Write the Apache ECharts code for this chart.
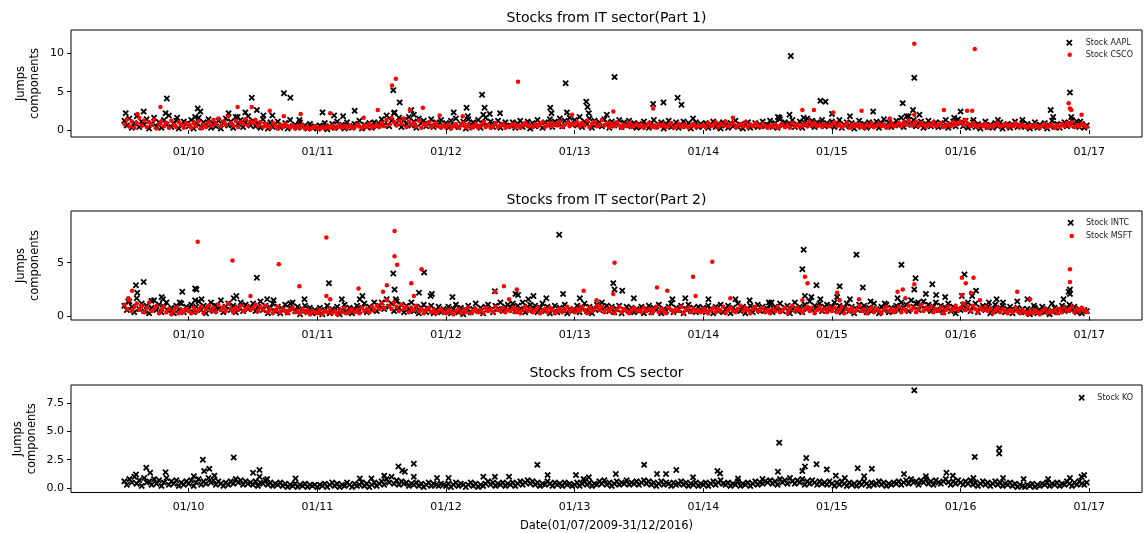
<!DOCTYPE html>
<html><head><meta charset="utf-8">
<script src="https://cdn.jsdelivr.net/npm/echarts@6/dist/echarts.min.js"></script>
<style>html,body{margin:0;padding:0;background:#fff}#c{width:1147px;height:533px}</style>
</head><body><div id="c"></div>
<script>
// ---- tick labels / titles ----
const yearTicks = [2010, 2011, 2012, 2013, 2014, 2015, 2016, 2017];
const titles = ['Stocks from IT sector(Part 1)', 'Stocks from IT sector(Part 2)', 'Stocks from CS sector'];
const seriesNames = ['Stock AAPL', 'Stock CSCO', 'Stock INTC', 'Stock MSFT', 'Stock KO'];
const yTicks1 = [0, 5, 10];
const yTicks2 = [0, 5];
const yTicks3 = [0, 2.5, 5, 7.5];

// ---- weekly base values (26 per half-year, 2009H2 .. 2016H2) ----
const aaplBase = [
1.2,0.6,1.5,0.3,0.9,1.8,0.4,1.1,0.7,1.4,0.2,0.8,1.6,0.5,1.0,0.3,1.3,0.7,1.9,0.4,0.9,1.2,0.2,0.6,1.1,0.8,
0.5,1.3,0.2,0.9,1.6,0.4,1.0,0.7,1.4,0.3,0.8,0.5,1.2,0.2,0.9,1.5,0.6,1.1,0.3,1.7,0.8,1.3,0.4,1.0,1.8,0.6,
1.2,0.5,0.9,0.3,1.4,0.7,0.2,1.0,0.4,0.8,1.1,0.3,0.6,0.9,0.2,1.3,0.5,0.7,0.3,1.0,0.4,0.6,0.2,0.8,0.3,0.5,
0.2,0.6,0.3,0.9,0.1,0.5,0.8,0.3,1.1,0.4,0.7,0.2,1.0,0.5,0.3,0.8,0.6,1.2,0.2,0.7,0.4,0.9,0.3,1.0,0.5,0.8,
1.4,0.7,1.9,0.5,1.2,2.2,0.9,1.6,0.4,1.3,0.8,1.7,0.6,1.1,0.3,1.5,0.9,1.2,0.5,0.8,1.4,0.4,1.0,0.7,1.3,0.5,
0.9,0.3,1.2,0.6,1.5,0.4,0.8,1.1,0.2,1.4,0.7,1.0,0.5,1.3,0.3,0.9,1.6,0.6,1.1,0.4,0.8,1.2,0.3,0.7,1.0,0.5,
0.6,1.0,0.3,0.8,1.2,0.4,0.7,1.1,0.2,0.9,0.5,1.3,0.6,0.3,1.0,0.7,1.4,0.4,1.1,0.8,1.5,0.5,1.2,0.9,1.6,0.7,
1.3,0.6,1.7,0.4,1.1,0.8,1.5,0.3,1.2,0.7,1.0,0.5,1.4,0.9,0.3,1.1,0.6,0.8,1.3,0.4,1.0,0.7,1.2,0.5,0.9,0.3,
0.8,0.4,1.1,0.6,0.3,0.9,1.3,0.5,0.7,1.0,0.2,0.8,1.2,0.4,0.6,1.0,0.3,0.7,1.1,0.5,0.9,0.2,0.6,1.0,0.4,0.8,
0.5,0.9,0.3,0.7,1.1,0.4,0.8,0.2,1.0,0.6,0.3,0.9,0.5,1.2,0.4,0.7,0.2,0.8,1.0,0.3,0.6,0.9,0.4,0.7,1.1,0.5,
0.7,1.2,0.4,0.9,0.3,1.4,0.6,1.0,0.5,0.8,1.3,0.4,0.7,1.1,0.3,0.9,1.5,0.6,1.2,0.4,1.0,0.7,1.3,0.5,0.9,0.6,
1.1,0.4,0.8,1.3,0.3,0.7,1.0,0.5,0.9,0.2,0.6,1.2,0.4,0.8,0.3,1.0,0.5,0.7,1.1,0.3,0.9,1.4,0.6,1.0,0.4,0.8,
1.2,0.6,1.6,0.4,1.0,1.8,0.7,1.3,0.5,0.9,1.1,0.3,0.8,1.2,0.5,0.7,1.0,0.4,0.9,0.6,1.3,0.3,0.8,1.1,0.5,1.4,
0.9,0.5,1.2,0.3,0.7,1.0,0.4,0.8,0.2,0.6,1.1,0.4,0.7,0.3,0.9,0.5,1.0,0.2,0.6,0.8,0.3,0.7,1.1,0.4,0.6,0.9,
0.4,0.8,0.2,0.6,1.0,0.3,0.7,0.5,0.9,0.2,0.6,1.2,0.4,0.8,0.3,0.7,1.0,0.5,0.9,1.3,0.6,1.1,0.4,0.8,0.3,0.6];
const cscoBase = [
0.8,1.4,0.5,1.1,0.3,0.9,1.6,0.6,1.2,0.4,1.0,0.7,1.3,0.2,0.8,1.1,0.5,0.9,0.3,1.2,0.6,0.4,1.0,0.7,0.3,0.9,
0.6,0.3,0.9,0.5,1.1,0.2,0.7,0.4,1.0,0.6,1.3,0.8,1.5,0.5,1.1,0.7,1.8,0.9,0.6,1.2,0.4,1.0,0.8,1.4,0.6,1.1,
0.9,1.3,0.6,1.0,0.4,0.8,0.5,0.3,0.9,0.6,0.2,0.7,0.4,0.8,0.5,0.3,0.6,0.2,0.5,0.3,0.7,0.2,0.4,0.1,0.3,0.5,
0.3,0.1,0.4,0.2,0.5,0.3,0.6,0.2,0.4,0.7,0.3,0.5,0.2,0.6,0.4,0.3,0.7,0.5,0.2,0.6,0.4,0.8,0.3,0.5,0.7,0.4,
0.9,0.5,1.3,0.7,1.6,1.0,0.6,1.2,0.8,1.5,0.4,1.1,0.7,0.9,0.5,1.2,0.3,0.8,0.6,1.0,0.4,0.7,0.9,0.5,0.3,0.6,
0.4,0.7,0.2,0.5,0.8,0.3,0.6,0.9,0.4,0.7,0.2,0.5,0.8,0.3,0.6,1.0,0.4,0.7,0.3,0.5,0.9,0.4,0.6,0.8,0.3,0.5,
0.5,0.8,0.4,0.6,0.3,0.7,0.9,0.5,0.6,0.4,0.8,0.5,0.7,1.0,0.4,0.6,0.9,0.5,0.8,0.6,1.1,0.4,0.7,0.9,0.5,0.8,
0.7,1.0,0.5,0.9,0.6,1.2,0.4,0.8,1.0,0.5,0.7,1.3,0.6,0.9,0.4,0.8,0.5,1.0,0.6,0.3,0.7,0.5,0.9,0.4,0.6,0.8,
0.5,0.7,0.3,0.6,0.9,0.4,0.6,0.3,0.8,0.5,0.7,0.4,0.6,0.9,0.3,0.5,0.8,0.4,0.7,0.5,0.3,0.6,0.8,0.4,0.6,0.5,
0.6,0.4,0.9,0.5,0.7,1.0,0.4,0.8,0.6,1.1,0.5,0.7,0.9,0.4,0.6,0.8,0.5,1.0,0.4,0.7,0.5,0.9,0.6,0.4,0.8,0.5,
0.3,0.6,0.4,0.7,0.3,0.5,0.8,0.4,0.6,0.3,0.9,0.5,0.7,0.4,0.6,0.8,0.5,1.1,0.6,0.9,0.5,0.7,0.4,0.8,0.6,0.5,
0.7,1.0,0.5,0.8,0.4,0.6,0.9,0.3,0.7,0.5,0.8,0.4,0.6,0.3,0.7,0.5,0.9,0.4,0.6,0.8,0.5,0.7,0.3,0.6,0.9,0.5,
0.6,0.9,0.5,1.0,0.7,1.2,0.6,0.8,1.1,0.5,0.9,0.7,0.4,0.8,0.6,1.0,0.5,0.7,0.9,0.4,0.6,0.8,0.5,1.0,0.7,0.9,
1.1,0.7,1.3,0.8,0.5,0.9,0.6,0.4,0.7,0.5,0.8,0.3,0.6,0.4,0.7,0.9,0.5,0.6,0.8,0.4,0.7,0.5,0.9,0.6,0.4,0.7,
0.5,0.3,0.6,0.4,0.7,0.5,0.3,0.6,0.8,0.4,0.5,0.7,0.3,0.6,0.4,0.8,0.5,0.9,0.6,1.0,0.4,0.7,0.5,0.8,0.6,0.4];
const intcBase = [
1.0,0.6,1.4,0.9,0.4,1.7,0.7,1.2,0.5,1.0,0.3,0.8,1.5,0.6,1.1,0.4,0.9,1.3,0.5,0.8,0.3,1.0,0.6,1.2,0.4,0.9,
0.7,1.1,0.4,0.9,1.4,0.6,1.0,0.3,0.8,1.3,0.5,1.0,0.7,1.5,0.4,0.9,1.2,0.6,1.0,0.4,0.8,1.3,0.5,1.1,0.7,0.9,
1.2,0.5,0.9,1.4,0.6,1.0,0.3,0.8,1.2,0.5,0.9,0.3,0.7,1.1,0.4,0.8,1.3,0.5,0.9,0.2,0.7,1.0,0.4,0.8,0.3,0.6,
0.4,0.8,0.2,0.6,1.0,0.3,0.7,0.5,0.9,0.2,0.6,1.1,0.4,0.8,0.3,0.7,1.0,0.5,0.8,1.2,0.4,0.9,0.6,1.3,0.5,1.0,
1.3,0.7,1.6,0.9,1.2,0.5,1.4,0.8,1.1,0.4,1.0,0.7,1.3,0.5,0.9,0.3,0.8,1.1,0.4,0.7,1.0,0.3,0.6,0.9,0.4,0.7,
0.5,0.9,0.3,0.7,1.1,0.4,0.8,0.2,0.6,1.0,0.4,0.7,1.2,0.5,0.8,0.3,0.9,1.1,0.6,0.4,1.0,0.7,1.3,0.5,0.9,1.1,
0.8,1.2,0.5,1.0,0.7,1.3,0.4,0.9,1.1,0.6,1.0,0.4,0.8,1.2,0.5,0.9,0.3,0.7,1.0,0.4,0.8,0.6,1.1,0.3,0.7,0.5,
0.6,1.0,0.4,0.8,1.2,0.5,0.9,0.3,0.7,1.1,0.6,1.3,0.8,1.0,0.5,0.9,0.4,0.7,1.0,0.3,0.6,0.9,0.5,0.8,0.4,0.7,
0.5,0.9,0.3,0.7,1.0,0.4,0.8,0.6,1.1,0.3,0.7,0.5,0.9,1.2,0.4,0.8,0.6,1.0,0.3,0.7,1.1,0.5,0.8,0.4,0.9,0.6,
0.8,0.4,1.0,0.6,0.3,0.9,0.5,1.1,0.4,0.7,1.0,0.3,0.8,0.6,1.2,0.5,0.9,0.3,0.7,1.0,0.4,0.8,1.1,0.5,0.9,0.6,
0.7,1.1,0.4,0.9,0.6,1.2,0.5,0.8,1.0,0.3,0.7,1.3,0.5,0.9,0.4,1.1,0.7,1.4,0.6,1.0,0.8,1.2,0.5,0.9,1.1,0.6,
0.9,1.3,0.6,1.0,0.4,0.8,1.2,0.5,0.9,0.3,0.7,1.1,0.6,1.0,0.4,0.8,0.5,1.2,0.7,0.3,0.9,0.6,1.1,0.4,0.8,0.5,
1.0,0.6,1.3,0.8,1.1,0.5,1.5,0.9,1.2,0.6,1.0,1.4,0.7,1.1,0.5,0.9,1.3,0.6,1.0,0.4,0.8,1.2,0.5,0.9,0.3,0.7,
0.6,1.1,0.8,1.3,0.5,0.9,1.2,0.4,0.8,1.0,0.6,0.9,0.3,0.7,1.1,0.5,0.8,1.0,0.4,0.7,0.9,0.3,0.6,0.8,0.5,0.7,
0.4,0.7,0.2,0.5,0.8,0.3,0.6,0.9,0.4,0.7,0.2,0.5,0.8,0.4,0.6,1.0,0.5,0.8,1.1,0.6,0.9,0.4,0.7,0.3,0.6,0.5];
const msftBase = [
1.1,0.7,1.5,0.5,0.9,1.2,0.6,1.0,0.4,0.8,1.3,0.5,0.7,1.0,0.3,0.6,0.9,0.4,0.7,0.2,0.5,0.8,0.3,0.6,0.4,0.7,
0.5,0.3,0.8,0.4,0.6,0.9,0.3,0.7,1.0,0.5,0.8,0.4,1.1,0.6,0.9,0.5,1.2,0.7,0.4,0.8,0.6,1.0,0.5,0.7,0.9,0.6,
0.8,1.1,0.5,0.9,0.6,1.0,0.4,0.7,0.3,0.6,0.9,0.4,0.7,0.5,0.3,0.6,0.8,0.4,0.5,0.3,0.7,0.4,0.6,0.2,0.5,0.4,
0.3,0.6,0.2,0.5,0.4,0.7,0.3,0.5,0.2,0.6,0.4,0.8,0.3,0.5,0.7,0.4,0.6,0.3,0.8,0.5,0.7,0.4,0.9,0.6,1.0,0.7,
1.2,0.8,1.5,1.0,0.7,1.3,0.9,0.5,1.1,0.7,0.9,0.4,0.8,0.6,1.0,0.5,0.7,0.3,0.6,0.8,0.4,0.6,0.3,0.5,0.7,0.4,
0.3,0.6,0.4,0.2,0.5,0.7,0.3,0.6,0.4,0.8,0.3,0.5,0.7,0.4,0.6,0.3,0.8,0.5,0.7,0.4,0.9,0.6,0.5,0.8,0.4,0.6,
0.5,0.8,0.4,0.7,0.3,0.6,0.9,0.5,0.7,0.4,0.6,0.8,0.3,0.5,0.7,0.4,0.8,0.6,0.3,0.5,0.7,0.4,0.6,0.9,0.5,0.7,
0.4,0.7,0.5,0.9,0.6,0.3,0.8,0.5,0.7,1.0,0.6,0.9,0.4,0.7,0.5,0.8,0.3,0.6,0.9,0.4,0.7,0.5,0.3,0.6,0.8,0.5,
0.6,0.4,0.8,0.5,0.7,0.3,0.6,0.9,0.4,0.7,0.5,0.3,0.8,0.6,0.4,0.7,0.5,0.9,0.3,0.6,0.8,0.4,0.7,0.5,0.6,0.4,
0.7,0.5,0.3,0.6,0.8,0.4,0.7,0.5,0.9,0.3,0.6,0.8,0.5,0.4,0.7,1.0,0.5,0.8,0.6,0.3,0.7,0.9,0.5,0.6,0.8,0.4,
0.6,0.3,0.7,0.5,0.9,0.4,0.6,0.8,0.3,0.7,1.0,0.5,0.8,0.6,0.4,0.7,0.9,0.5,0.8,0.3,0.6,0.9,0.5,0.7,0.4,0.8,
0.5,0.8,0.4,0.6,0.9,0.3,0.7,0.5,0.8,0.4,0.6,1.0,0.5,0.7,0.3,0.6,0.8,0.4,0.7,0.5,0.3,0.6,0.9,0.5,0.7,0.4,
0.6,0.9,0.4,0.7,0.5,1.0,0.6,0.8,0.4,0.7,1.1,0.5,0.8,0.6,0.9,0.4,0.7,0.5,0.8,0.3,0.6,0.9,0.5,0.7,1.0,0.6,
0.8,1.2,0.6,0.9,0.5,1.0,0.7,0.4,0.8,0.6,0.9,0.5,0.7,0.3,0.6,0.8,0.4,0.7,0.5,0.3,0.6,0.4,0.8,0.5,0.3,0.6,
0.4,0.2,0.5,0.3,0.6,0.4,0.2,0.5,0.7,0.3,0.5,0.4,0.6,0.3,0.7,0.4,0.8,0.5,0.6,0.9,0.4,0.7,0.5,0.8,0.6,0.4];
const koBase = [
0.6,0.3,0.8,0.5,1.0,0.4,0.7,0.2,0.9,0.5,0.6,0.3,0.8,0.4,0.7,0.2,0.5,0.9,0.3,0.6,0.4,0.7,0.2,0.5,0.3,0.6,
0.4,0.7,0.2,0.5,0.8,0.3,0.6,0.4,0.9,0.5,0.7,0.3,0.6,0.4,0.2,0.5,0.3,0.6,0.4,0.8,0.5,0.7,0.3,0.6,0.4,0.5,
0.3,0.6,0.2,0.5,0.4,0.7,0.3,0.5,0.2,0.4,0.3,0.5,0.2,0.4,0.1,0.3,0.2,0.4,0.1,0.3,0.2,0.4,0.1,0.3,0.2,0.3,
0.1,0.3,0.2,0.4,0.1,0.3,0.5,0.2,0.4,0.1,0.3,0.2,0.5,0.3,0.1,0.4,0.2,0.3,0.5,0.2,0.4,0.1,0.3,0.5,0.2,0.4,
0.6,0.3,0.8,0.5,1.0,0.4,0.7,0.3,0.6,0.4,0.5,0.2,0.4,0.3,0.5,0.2,0.4,0.1,0.3,0.5,0.2,0.4,0.3,0.2,0.4,0.3,
0.2,0.4,0.1,0.3,0.5,0.2,0.4,0.3,0.1,0.3,0.5,0.2,0.4,0.1,0.3,0.2,0.4,0.6,0.3,0.5,0.2,0.4,0.3,0.5,0.2,0.4,
0.3,0.5,0.2,0.4,0.6,0.3,0.5,0.7,0.4,0.6,0.3,0.5,0.2,0.4,0.3,0.6,0.4,0.2,0.5,0.3,0.4,0.2,0.5,0.3,0.4,0.2,
0.3,0.5,0.2,0.4,0.6,0.3,0.5,0.2,0.4,0.3,0.6,0.4,0.7,0.3,0.5,0.2,0.4,0.6,0.3,0.5,0.4,0.7,0.3,0.5,0.4,0.6,
0.3,0.5,0.7,0.4,0.6,0.3,0.5,0.2,0.4,0.6,0.3,0.5,0.4,0.2,0.5,0.3,0.4,0.6,0.3,0.5,0.2,0.4,0.3,0.5,0.2,0.4,
0.3,0.5,0.2,0.4,0.6,0.3,0.5,0.7,0.4,0.3,0.5,0.2,0.4,0.3,0.6,0.2,0.4,0.3,0.5,0.2,0.4,0.6,0.3,0.5,0.4,0.6,
0.5,0.7,0.4,0.6,0.3,0.8,0.5,0.7,0.4,0.9,0.6,0.4,0.7,0.5,0.8,0.3,0.6,0.4,0.7,0.5,0.3,0.6,0.4,0.5,0.3,0.6,
0.4,0.2,0.5,0.3,0.6,0.4,0.2,0.5,0.3,0.4,0.2,0.5,0.3,0.6,0.4,0.2,0.5,0.3,0.4,0.6,0.3,0.5,0.2,0.4,0.3,0.5,
0.4,0.6,0.3,0.5,0.7,0.4,0.8,0.5,0.6,0.3,0.7,0.5,0.8,0.4,0.6,0.3,0.7,0.5,0.4,0.6,0.8,0.5,0.3,0.6,0.4,0.7,
0.5,0.3,0.6,0.4,0.7,0.3,0.5,0.2,0.4,0.6,0.3,0.5,0.2,0.4,0.6,0.3,0.5,0.2,0.4,0.3,0.5,0.2,0.4,0.1,0.3,0.2,
0.1,0.3,0.2,0.4,0.1,0.3,0.2,0.4,0.3,0.5,0.2,0.4,0.3,0.5,0.2,0.4,0.3,0.6,0.4,0.2,0.5,0.3,0.6,0.4,0.3,0.5];

// ---- jump days: [decimal year, value] ----
const aaplJumps = [[2009.51,2.2],[2009.65,2.4],[2009.83,4.1],[2009.82,2.2],[2009.91,1.6],[2010.07,2.8],[2010.09,2.4],[2010.05,1.7],
[2010.31,2.2],[2010.38,1.7],[2010.44,2.3],[2010.49,4.2],[2010.53,2.6],[2010.58,1.9],[2010.65,1.9],[2010.74,4.8],[2010.79,4.2],
[2010.86,1.3],[2011.04,2.3],[2011.13,1.9],[2011.20,1.8],[2011.29,2.5],[2011.59,5.2],[2011.64,3.6],[2011.60,2.3],[2011.73,2.6],
[2011.75,2.0],[2012.06,2.3],[2012.16,2.9],[2012.17,1.8],[2012.28,4.6],[2012.30,2.9],[2012.29,2.0],[2012.34,2.1],[2012.42,2.2],
[2012.81,2.9],[2012.82,2.2],[2012.93,6.1],[2012.94,2.3],[2013.09,3.7],[2013.10,3.0],[2013.11,2.2],[2013.31,6.9],[2013.25,2.0],
[2013.61,3.4],[2013.69,3.6],[2013.80,4.2],[2013.83,3.3],[2013.92,1.5],[2014.58,1.7],[2014.68,9.65],[2014.59,1.6],[2014.67,2.0],
[2014.78,1.6],[2014.91,3.8],[2014.95,3.7],[2015.00,2.1],[2015.14,1.8],[2015.32,2.4],[2015.55,3.5],[2015.64,6.8],[2015.63,2.6],
[2015.58,1.8],[2015.68,2.0],[2015.95,1.6],[2016.00,2.4],[2016.10,1.3],[2016.29,1.3],[2016.48,1.3],[2016.70,2.6],[2016.72,1.7],
[2016.85,4.9],[2016.86,1.7],[2016.93,1.1]];
const cscoJumps = [[2009.60,2.1],[2009.78,3.0],[2010.38,3.0],[2010.49,3.0],[2010.63,2.5],[2010.74,1.8],[2010.87,2.1],[2011.10,2.2],
[2011.36,1.6],[2011.47,2.6],[2011.58,5.8],[2011.61,6.7],[2011.72,2.6],[2011.82,2.9],[2011.95,1.9],[2012.13,1.8],[2012.56,6.3],
[2012.98,2.0],[2013.30,2.4],[2013.61,2.8],[2014.23,1.6],[2014.77,2.6],[2014.86,2.6],[2015.01,2.3],[2015.23,2.5],[2015.45,1.5],
[2015.64,11.25],[2015.64,2.0],[2015.87,2.6],[2016.05,2.5],[2016.09,2.5],[2016.11,10.55],[2016.84,3.5],[2016.85,2.8],[2016.86,2.6],
[2016.94,2.0]];
const intcJumps = [[2009.53,1.4],[2009.59,2.9],[2009.60,2.2],[2009.65,3.2],[2009.71,1.45],[2009.79,1.8],[2009.80,1.6],[2009.93,1.3],
[2009.95,2.3],[2010.05,2.6],[2010.06,2.5],[2010.05,1.5],[2010.10,1.6],[2010.20,1.0],[2010.37,1.9],[2010.35,1.7],[2010.53,3.6],
[2010.61,1.6],[2010.66,1.5],[2010.79,1.2],[2010.90,1.6],[2011.09,3.1],[2011.19,1.6],[2011.33,1.6],[2011.35,1.9],[2011.59,4.0],
[2011.60,2.5],[2011.61,1.6],[2011.79,2.2],[2011.83,4.1],[2011.88,1.9],[2011.89,2.1],[2012.05,1.8],[2012.38,2.35],[2012.54,2.1],
[2012.56,2.0],[2012.64,1.6],[2012.68,1.9],[2012.78,1.7],[2012.88,7.6],[2012.91,2.1],[2013.04,1.7],[2013.30,3.1],[2013.31,2.5],
[2013.37,2.4],[2013.46,1.7],[2013.76,1.6],[2013.86,1.7],[2014.04,1.6],[2014.25,1.6],[2014.36,1.5],[2014.51,1.3],[2014.53,1.3],
[2014.77,4.4],[2014.78,6.2],[2014.79,1.9],[2014.84,1.8],[2014.88,2.9],[2014.91,1.6],[2015.04,1.8],[2015.06,2.8],[2015.14,1.6],
[2015.19,5.75],[2015.24,2.7],[2015.30,1.4],[2015.41,1.2],[2015.51,1.7],[2015.54,4.8],[2015.65,3.55],[2015.64,2.5],[2015.67,1.3],
[2015.73,2.1],[2015.78,3.0],[2015.81,2.0],[2015.88,1.8],[2016.01,1.9],[2016.03,3.9],[2016.09,1.9],[2016.12,2.4],[2016.22,1.3],
[2016.28,1.6],[2016.33,1.3],[2016.44,1.4],[2016.52,1.6],[2016.57,1.0],[2016.71,1.2],[2016.80,1.6],[2016.85,2.5],[2016.85,2.1],
[2016.84,2.3]];
const msftJumps = [[2009.56,2.4],[2009.53,1.7],[2010.07,6.95],[2010.48,1.9],[2010.34,5.2],[2010.70,4.85],[2010.86,2.8],[2011.07,7.35],
[2011.07,1.9],[2011.10,1.6],[2011.32,2.6],[2011.51,2.3],[2011.54,2.9],[2011.60,7.95],[2011.60,5.6],[2011.62,4.8],[2011.73,3.1],
[2011.75,1.9],[2011.81,4.4],[2012.38,2.3],[2012.45,2.8],[2012.55,2.5],[2012.49,1.6],[2013.07,2.4],[2013.17,1.5],[2013.31,5.0],
[2013.30,2.1],[2013.64,2.7],[2013.72,2.4],[2013.92,3.7],[2013.94,1.9],[2014.07,5.1],[2014.21,1.7],[2014.79,3.7],[2014.81,3.1],
[2014.77,1.5],[2015.04,2.2],[2015.06,1.5],[2015.21,1.6],[2015.51,2.3],[2015.55,2.5],[2015.57,1.7],[2015.64,3.0],[2016.01,3.6],
[2016.04,3.1],[2016.01,2.0],[2016.10,3.6],[2016.08,2.2],[2016.15,1.5],[2016.44,2.3],[2016.54,1.6],[2016.85,4.4],[2016.85,3.2]];
const koJumps = [[2009.59,1.2],[2009.67,1.8],[2009.70,1.35],[2009.82,1.4],[2010.04,1.05],[2010.11,2.5],[2010.12,1.5],[2010.16,1.7],
[2010.20,1.1],[2010.35,2.7],[2010.50,1.35],[2010.55,1.6],[2010.55,1.0],[2010.61,0.8],[2010.83,0.85],[2011.33,0.85],[2011.42,0.85],
[2011.63,1.9],[2011.52,1.1],[2011.66,1.55],[2011.68,1.45],[2011.75,2.15],[2011.75,1.0],[2011.93,0.9],[2012.02,0.9],[2012.29,1.0],
[2012.38,1.0],[2012.49,1.0],[2012.71,2.05],[2012.79,1.15],[2013.01,1.15],[2013.07,0.8],[2013.11,0.95],[2013.32,1.25],[2013.54,2.05],
[2013.64,1.25],[2013.71,1.25],[2013.79,1.6],[2013.92,0.95],[2014.11,1.5],[2014.13,1.3],[2014.27,0.85],[2014.46,0.8],[2014.58,1.45],
[2014.59,4.0],[2014.77,1.5],[2014.79,1.9],[2014.80,2.65],[2014.88,2.1],[2014.96,1.65],[2015.03,1.1],[2015.10,0.9],[2015.20,1.75],
[2015.25,1.05],[2015.31,1.7],[2015.56,1.25],[2015.64,8.6],[2015.73,1.05],[2015.89,1.35],[2015.94,1.1],[2016.11,2.75],[2016.10,0.9],
[2016.30,3.5],[2016.30,3.05],[2016.33,0.9],[2016.49,0.8],[2016.68,0.8],[2016.85,0.9],[2016.94,1.0],[2016.96,1.15]];

// ---- build ----
const BASE_START = 2009.5, WEEK = 1 / 52;
function build(base, jumps) {
  return base.map((v, i) => [BASE_START + i * WEEK, v]).concat(jumps);
}
const FONT = 'DejaVu Sans';
const XPATH = 'path://M0,2L2,0L5,3L8,0L10,2L7,5L10,8L8,10L5,7L2,10L0,8L3,5Z';
const X_SIZE = 6.5, DOT_SIZE = 4.5;
const grids = [
  {left: 71, top: 30, width: 1071, height: 107},
  {left: 71, top: 211, width: 1071, height: 109},
  {left: 71, top: 385, width: 1071, height: 108}
].map(g => Object.assign(g, {show: true, borderColor: '#000', borderWidth: 1, backgroundColor: 'transparent'}));

function xAx(i) {
  const a = {
    type: 'value', gridIndex: i, min: 2009.085, max: 2017.41,
    axisLine: {show: false},
    axisTick: {show: true, customValues: yearTicks, length: 4, lineStyle: {color: '#000', width: 1}},
    axisLabel: {customValues: yearTicks, margin: 9.5, fontSize: 11, color: '#000', fontFamily: FONT,
      formatter: v => '01/' + String(Math.round(v)).slice(2)},
    splitLine: {show: false}
  };
  if (i === 2) {
    a.name = 'Date(01/07/2009-31/12/2016)';
    a.nameLocation = 'middle';
    a.nameGap = 27.5;
    a.nameMoveOverlap = false;
    a.nameTextStyle = {fontSize: 11.5, color: '#000', fontFamily: FONT};
  }
  return a;
}
function yAx(i, min, max, ticks, fmt, gap) {
  return {
    type: 'value', gridIndex: i, min: min, max: max,
    name: 'Jumps\ncomponents', nameLocation: 'middle', nameRotate: 90, nameGap: gap,
    nameMoveOverlap: false,
    nameTextStyle: {fontSize: 11.5, lineHeight: 14.3, color: '#000', fontFamily: FONT, align: 'center'},
    axisLine: {show: false},
    axisTick: {show: true, customValues: ticks, length: 4, lineStyle: {color: '#000', width: 1}},
    axisLabel: {customValues: ticks, margin: 7, fontSize: 11, color: '#000', fontFamily: FONT, formatter: fmt},
    splitLine: {show: false}
  };
}
function sc(name, data, gi, black) {
  return {
    type: 'scatter', name: name, xAxisIndex: gi, yAxisIndex: gi, data: data,
    symbol: black ? XPATH : 'circle', symbolSize: black ? X_SIZE : DOT_SIZE,
    itemStyle: {color: black ? '#000' : '#ff0000', opacity: 1},
    silent: true, animation: false
  };
}
// legend: icon centre (cx, cy) and text start tx
function lg(name, cx, cy, tx, black) {
  const s = black ? X_SIZE : DOT_SIZE;
  const left = cx - s / 2;
  return {
    data: [name], left: left, top: cy - 5, orient: 'vertical', padding: 0,
    itemWidth: s, itemHeight: s, icon: black ? XPATH : 'circle',
    selectedMode: false,
    textStyle: {fontSize: 8, color: '#222', fontFamily: FONT, lineHeight: 10,
      padding: [0, 0, 0, tx - (left + s + 5)]}
  };
}
const option = {
  animation: false,
  backgroundColor: '#fff',
  textStyle: {fontFamily: FONT},
  title: titles.map((t, i) => ({
    text: t, left: 606.5, textAlign: 'center', top: [11, 193, 366.5][i], padding: 0,
    textStyle: {fontSize: 14, fontWeight: 'normal', color: '#000', fontFamily: FONT}
  })),
  grid: grids,
  xAxis: [xAx(0), xAx(1), xAx(2)],
  yAxis: [
    yAx(0, -0.91, 13.04, yTicks1, v => String(v), 29),
    yAx(1, -0.33, 9.81, yTicks2, v => String(v), 29),
    yAx(2, -0.38, 9.07, yTicks3, v => v.toFixed(1), 32)
  ],
  legend: [
    lg(seriesNames[0], 1069.3, 42.7, 1085.7, true),
    lg(seriesNames[1], 1069.7, 54.7, 1085.7, false),
    lg(seriesNames[2], 1070.7, 222.7, 1086, true),
    lg(seriesNames[3], 1071.7, 236, 1086, false),
    lg(seriesNames[4], 1081.7, 397.7, 1097.3, true)
  ],
  series: [
    sc(seriesNames[0], build(aaplBase, aaplJumps), 0, true),
    sc(seriesNames[1], build(cscoBase, cscoJumps), 0, false),
    sc(seriesNames[2], build(intcBase, intcJumps), 1, true),
    sc(seriesNames[3], build(msftBase, msftJumps), 1, false),
    sc(seriesNames[4], build(koBase, koJumps), 2, true)
  ]
};
const chart = echarts.init(document.getElementById('c'), null, {renderer: 'canvas'});
chart.setOption(option);
</script>
</body></html>
